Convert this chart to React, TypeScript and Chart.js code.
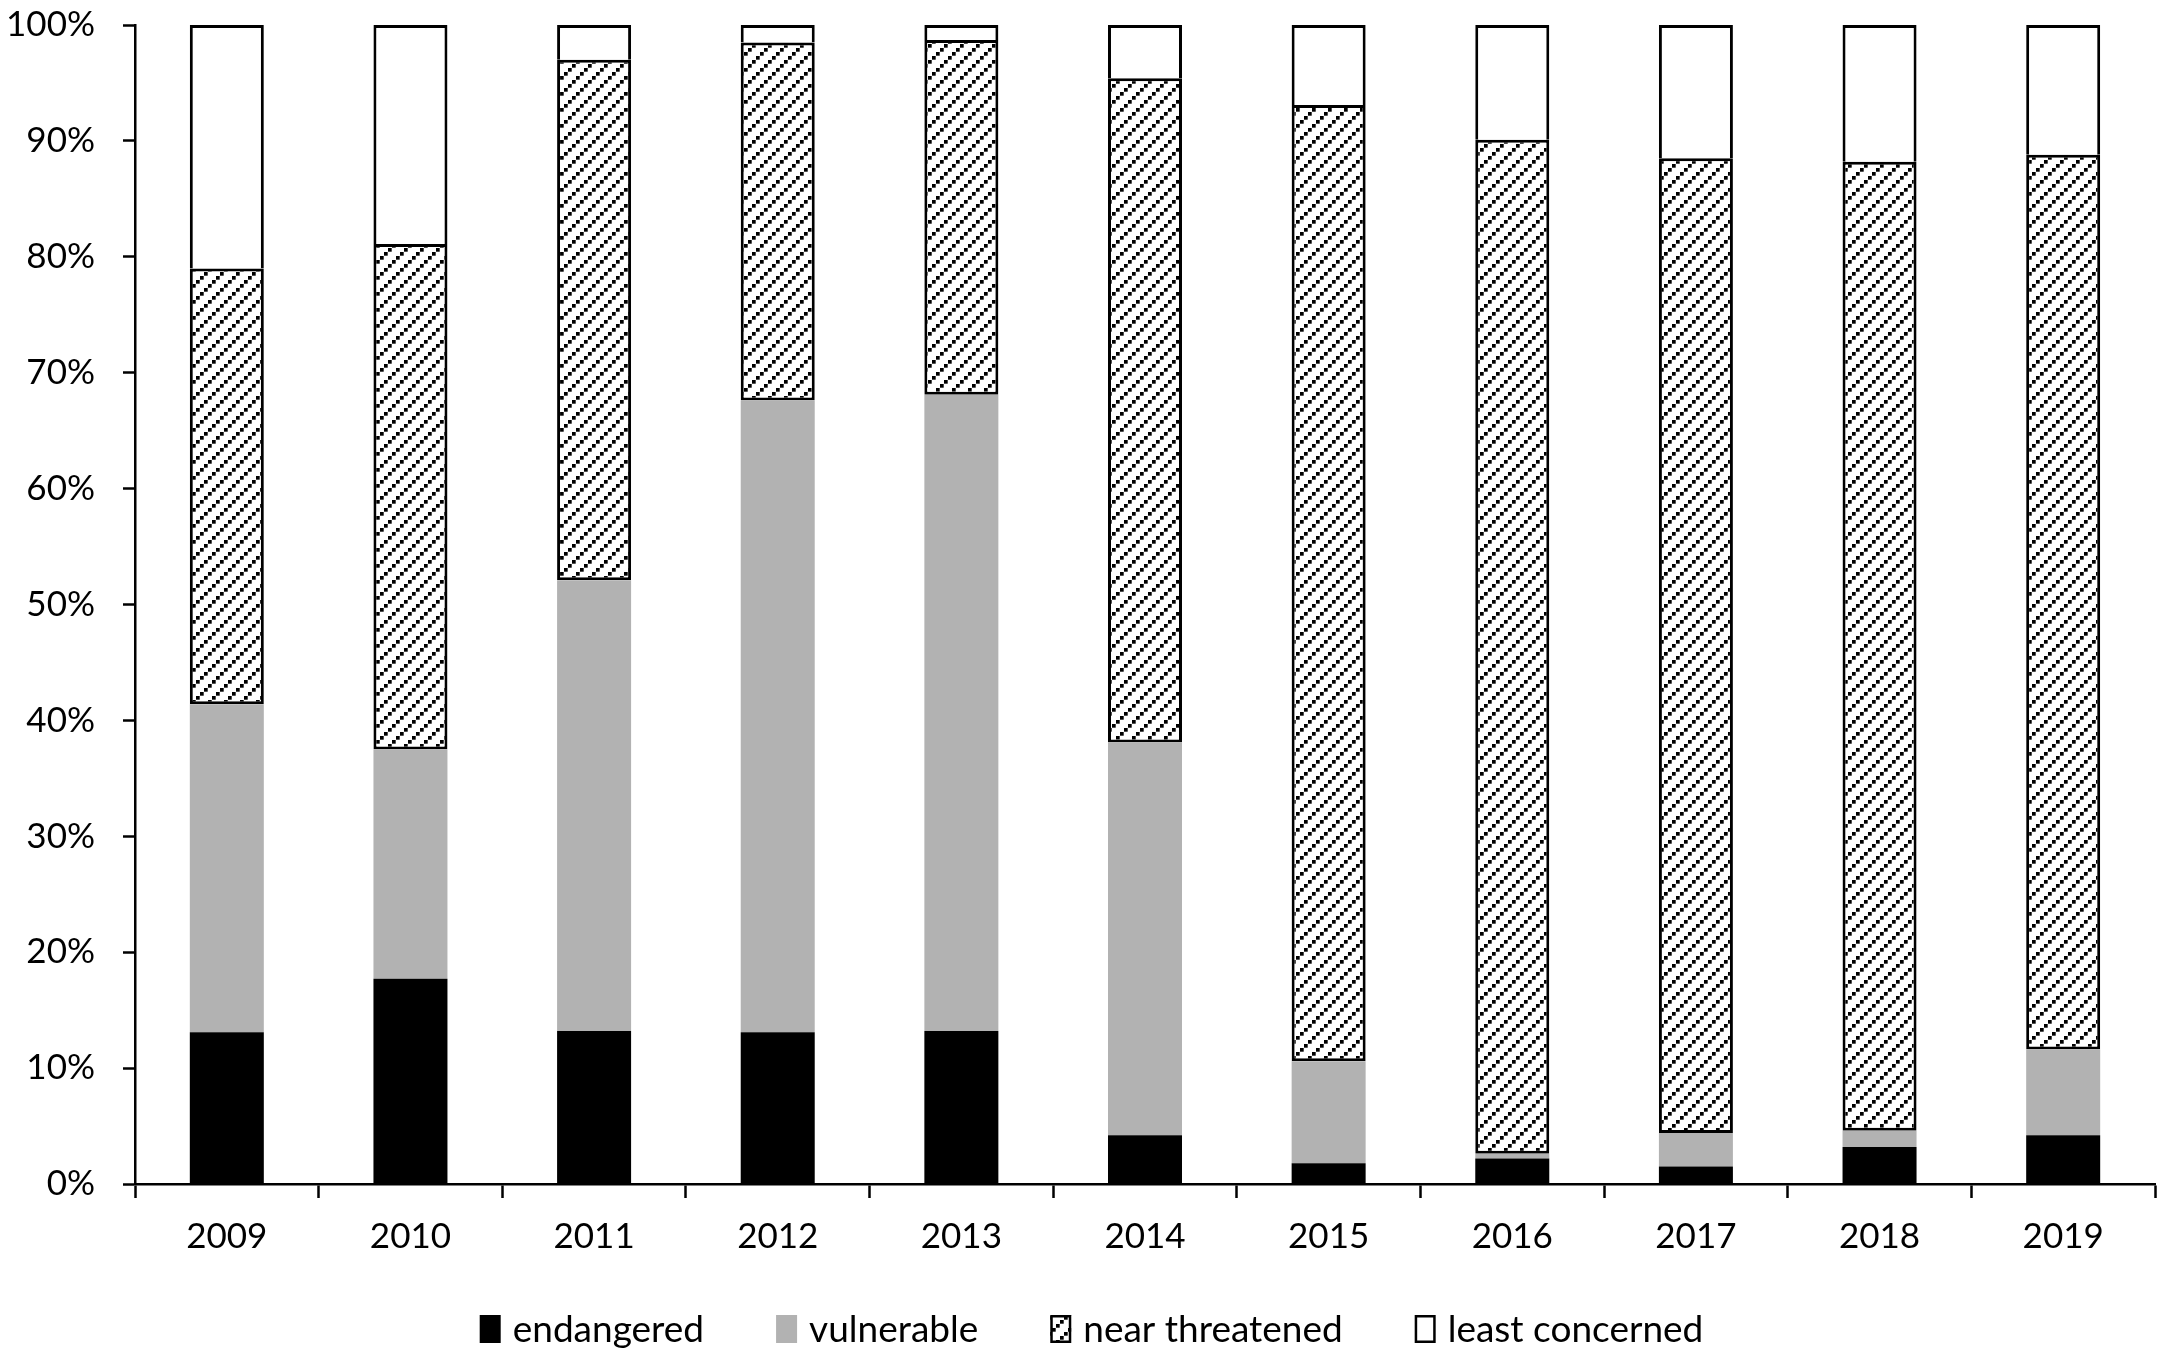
import React, { useEffect, useRef } from "react";
import { Chart, registerables } from "chart.js";

Chart.register(...registerables);

const years = ["2009", "2010", "2011", "2012", "2013", "2014", "2015", "2016", "2017", "2018", "2019"];
const endangered = [13.1, 17.7, 13.2, 13.1, 13.2, 4.2, 1.8, 2.2, 1.5, 3.2, 4.2];
const vulnerable = [28.3, 19.8, 38.9, 54.5, 54.9, 33.9, 8.8, 0.4, 2.9, 1.4, 7.4];
const nearThreatened = [37.6, 43.6, 44.9, 30.9, 30.6, 57.3, 82.5, 87.5, 84.1, 83.6, 77.2];
const leastConcerned = [21.0, 18.9, 3.0, 1.5, 1.3, 4.6, 6.9, 9.9, 11.5, 11.8, 11.2];
const seriesNames = ["endangered", "vulnerable", "near threatened", "least concerned"];

const FONT_FAMILY = "Lato, 'Open Sans', sans-serif";

function makeHatch(ctx: CanvasRenderingContext2D): CanvasPattern | string {
  const size = 16;
  const step = 4;
  const sq = 3.7;
  const tile = document.createElement("canvas");
  tile.width = size;
  tile.height = size;
  const t = tile.getContext("2d");
  if (!t) return "#ffffff";
  t.fillStyle = "#ffffff";
  t.fillRect(0, 0, size, size);
  t.fillStyle = "#000000";
  for (let i = 0; i < size / step; i++) {
    const x = i * step;
    const y = size - step - i * step;
    t.fillRect(x, y, sq, sq);
  }
  const p = ctx.createPattern(tile, "repeat");
  return p || "#ffffff";
}

const customLegend = {
  id: "customLegend",
  afterDraw(chart: any) {
    const ctx: CanvasRenderingContext2D = chart.ctx;
    const fontSize = 37;
    const boxW = 21;
    const boxH = 28;
    const gapBoxText = 12;
    const gapItems = 72;
    ctx.save();
    ctx.font = `${fontSize}px ${FONT_FAMILY}`;
    ctx.textBaseline = "middle";
    ctx.textAlign = "left";
    const items = chart.data.datasets.map((ds: any) => ({
      text: ds.label,
      fill: ds.backgroundColor,
      border: ds.legendBorder,
      w: ctx.measureText(ds.label).width,
    }));
    const total =
      items.reduce((s: number, it: any) => s + boxW + gapBoxText + it.w, 0) + gapItems * (items.length - 1);
    let x = chart.width / 2 + 12 - total / 2;
    const cy = chart.height - 29;
    for (const it of items) {
      ctx.fillStyle = it.fill;
      ctx.fillRect(x, cy - boxH / 2, boxW, boxH);
      if (it.border) {
        ctx.strokeStyle = "#000000";
        ctx.lineWidth = 2.5;
        ctx.strokeRect(x + 1.25, cy - boxH / 2 + 1.25, boxW - 2.5, boxH - 2.5);
      }
      ctx.fillStyle = "#000000";
      ctx.fillText(it.text, x + boxW + gapBoxText, cy + 1);
      x += boxW + gapBoxText + it.w + gapItems;
    }
    ctx.restore();
  },
};

export default function App() {
  const ref = useRef<HTMLCanvasElement | null>(null);

  useEffect(() => {
    document.body.style.margin = "0";
    const canvas = ref.current;
    if (!canvas) return;
    const ctx = canvas.getContext("2d");
    if (!ctx) return;
    const hatch = makeHatch(ctx);
    const font = { family: FONT_FAMILY, size: 35 };
    const common = { categoryPercentage: 1, barPercentage: 0.403 };

    const chart = new Chart(ctx, {
      type: "bar",
      plugins: [customLegend],
      data: {
        labels: years,
        datasets: [
          {
            label: seriesNames[0],
            data: endangered,
            backgroundColor: "#000000",
            borderWidth: 0,
            legendBorder: false,
            ...common,
          } as any,
          {
            label: seriesNames[1],
            data: vulnerable,
            backgroundColor: "#b2b2b2",
            borderWidth: 0,
            legendBorder: false,
            ...common,
          } as any,
          {
            label: seriesNames[2],
            data: nearThreatened,
            backgroundColor: hatch as any,
            borderColor: "#000000",
            borderWidth: 3,
            borderSkipped: false,
            legendBorder: true,
            ...common,
          } as any,
          {
            label: seriesNames[3],
            data: leastConcerned,
            backgroundColor: "#ffffff",
            borderColor: "#000000",
            borderWidth: { top: 3, left: 3, right: 3, bottom: 0 },
            borderSkipped: false,
            legendBorder: true,
            ...common,
          } as any,
        ],
      },
      options: {
        animation: false,
        responsive: true,
        maintainAspectRatio: false,
        devicePixelRatio: 1,
        layout: { padding: { left: 0, right: 4, top: 25, bottom: 0 } },
        plugins: {
          tooltip: { enabled: false },
          legend: { display: false },
        },
        scales: {
          x: {
            stacked: true,
            afterFit: (scale: any) => {
              scale.height = 174;
              scale.paddingLeft = 0;
              scale.paddingRight = 0;
            },
            grid: {
              display: true,
              drawOnChartArea: false,
              drawTicks: true,
              tickLength: 14,
              tickWidth: 2.5,
              tickColor: "#000000",
              offset: true,
            },
            border: { display: true, color: "#000000", width: 2.5 },
            ticks: { font, color: "#000000", padding: 18 },
          },
          y: {
            stacked: true,
            min: 0,
            max: 100,
            afterFit: (scale: any) => {
              scale.width = 135;
              scale.paddingTop = 0;
              scale.paddingBottom = 0;
            },
            grid: {
              display: true,
              drawOnChartArea: false,
              drawTicks: true,
              tickLength: 12,
              tickWidth: 2.5,
              tickColor: "#000000",
            },
            border: { display: true, color: "#000000", width: 2.5 },
            ticks: {
              stepSize: 10,
              font,
              color: "#000000",
              padding: 28,
              callback: (v: any) => `${v}%`,
            },
          },
        },
      },
    });
    return () => chart.destroy();
  }, []);

  return (
    <div style={{ width: 2159, height: 1358, position: "relative", background: "#ffffff" }}>
      <canvas ref={ref} />
    </div>
  );
}
